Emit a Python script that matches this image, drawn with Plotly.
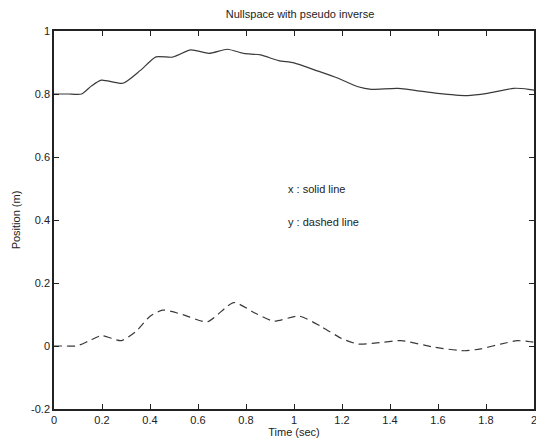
import plotly.graph_objects as go

# Data
t_x = [0.0, 0.06, 0.115, 0.155, 0.197, 0.287, 0.36, 0.425, 0.494, 0.570, 0.646, 0.722, 0.791, 0.86,
       0.936, 1.0, 1.088, 1.184, 1.267, 1.322, 1.433, 1.598, 1.722, 1.805, 1.916, 1.978, 2.0]
x_pos = [0.80, 0.80, 0.80, 0.825, 0.844, 0.834, 0.875, 0.918, 0.917, 0.940, 0.929, 0.942, 0.929, 0.924,
         0.906, 0.899, 0.876, 0.850, 0.823, 0.815, 0.818, 0.802, 0.795, 0.802, 0.818, 0.815, 0.812]

t_y = [0.0, 0.05, 0.094, 0.145, 0.197, 0.28, 0.34, 0.398, 0.453, 0.535, 0.639, 0.749, 0.839, 0.915, 1.022,
       1.115, 1.198, 1.267, 1.336, 1.446, 1.585, 1.709, 1.778, 1.861, 1.93, 1.99, 2.0]
y_pos = [0.0, 0.0, 0.0, 0.016, 0.033, 0.017, 0.045, 0.093, 0.114, 0.10, 0.077, 0.138, 0.104, 0.079, 0.095,
         0.061, 0.024, 0.006, 0.009, 0.017, -0.004, -0.015, -0.009, 0.006, 0.017, 0.013, 0.012]

x_ticks = [0, 0.2, 0.4, 0.6, 0.8, 1, 1.2, 1.4, 1.6, 1.8, 2]
x_tick_labels = ["0", "0.2", "0.4", "0.6", "0.8", "1", "1.2", "1.4", "1.6", "1.8", "2"]
y_ticks = [-0.2, 0, 0.2, 0.4, 0.6, 0.8, 1]
y_tick_labels = ["-0.2", "0", "0.2", "0.4", "0.6", "0.8", "1"]

font = dict(family="Liberation Sans, Arial, sans-serif", size=11, color="#222")

fig = go.Figure()
fig.add_trace(go.Scatter(x=t_x, y=x_pos, mode="lines",
                         line=dict(color="#3a3a3a", width=1.2, shape="spline", smoothing=0.6),
                         showlegend=False))
fig.add_trace(go.Scatter(x=t_y, y=y_pos, mode="lines",
                         line=dict(color="#3a3a3a", width=1.2, shape="spline", smoothing=0.6,
                                   dash="8px,5px"),
                         showlegend=False))

fig.add_annotation(x=0.965, y=0.50, text="x : solid line", showarrow=False,
                   xanchor="left", yanchor="middle", font=font)
fig.add_annotation(x=0.965, y=0.394, text="y : dashed line", showarrow=False,
                   xanchor="left", yanchor="middle", font=font)

axis_common = dict(showgrid=False, zeroline=False, showline=True, linecolor="#222",
                   linewidth=1.5, mirror="ticks", ticks="inside", ticklen=5,
                   tickcolor="#222", tickwidth=1, tickfont=font)

# The page body has an 8px default margin; compensate so the plot lands where the reference has it.
fig.update_layout(
    width=536, height=435,
    margin=dict(l=46, r=7, t=23, b=34),
    paper_bgcolor="white", plot_bgcolor="white",
    font=font,
    title=dict(text="Nullspace with pseudo inverse", x=0.545, xanchor="center",
               y=1 - 6 / 435, yanchor="middle", font=font),
    xaxis=dict(range=[0, 2], tickvals=x_ticks, ticktext=x_tick_labels,
               title=dict(text="Time (sec)", font=font, standoff=2), **axis_common),
    yaxis=dict(range=[-0.2, 1], tickvals=y_ticks, ticktext=y_tick_labels,
               title=dict(text="Position (m)", font=font, standoff=8), **axis_common),
)

fig.write_html("out.html")
